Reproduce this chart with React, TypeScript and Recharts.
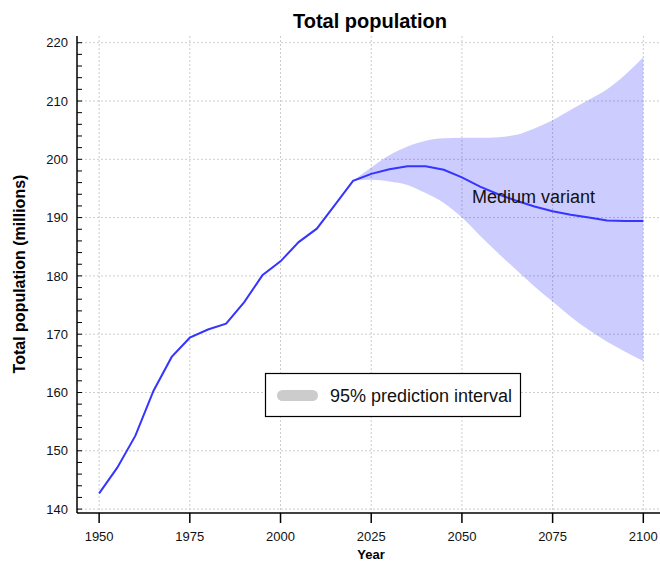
import React from "react";
import {
  Area,
  CartesianGrid,
  ComposedChart,
  Line,
  ReferenceDot,
  XAxis,
  YAxis,
} from "recharts";

const years = [
  1950, 1955, 1960, 1965, 1970, 1975, 1980, 1985, 1990, 1995, 2000, 2005, 2010,
  2015, 2020, 2025, 2030, 2035, 2040, 2045, 2050, 2055, 2060, 2065, 2070, 2075,
  2080, 2085, 2090, 2095, 2100,
];

// estimates (1950-2020) followed by the medium variant (2025-2100)
const population = [
  142.7, 147.1, 152.6, 160.3, 166.1, 169.4, 170.8, 171.8, 175.5, 180.1, 182.5,
  185.8, 188.1, 192.2, 196.3, 197.5, 198.3, 198.8, 198.8, 198.2, 196.9, 195.3,
  194.0, 192.9, 191.9, 191.1, 190.5, 190.0, 189.5, 189.4, 189.4,
];

// 95% prediction interval, from 2020 on
const bandYears = [
  2020, 2025, 2030, 2035, 2040, 2045, 2050, 2055, 2060, 2065, 2070, 2075, 2080,
  2085, 2090, 2095, 2100,
];
const lower95 = [
  196.3, 196.5, 196.2, 195.6, 194.2, 192.5, 190.0, 186.9, 183.9, 181.0, 178.2,
  175.6, 173.0, 170.7, 168.7, 167.0, 165.4,
];
const upper95 = [
  196.3, 198.6, 200.7, 202.2, 203.2, 203.6, 203.7, 203.7, 203.8, 204.2, 205.3,
  206.7, 208.5, 210.2, 212.0, 214.5, 217.5,
];

const xTicks = [1950, 1975, 2000, 2025, 2050, 2075, 2100];
const yMajorTicks = [140, 150, 160, 170, 180, 190, 200, 210, 220];
const yMinorTicks = Array.from({ length: 41 }, (_, i) => 140 + i * 2);

const data = years.map((year, i) => {
  const j = bandYears.indexOf(year);
  return {
    year,
    pop: population[i],
    band: j >= 0 ? [lower95[j], upper95[j]] : undefined,
  };
});

const FONT = "'Liberation Sans', Arial, Helvetica, sans-serif";
const X_DOMAIN: [number, number] = [1943.9, 2104.6];
const Y_DOMAIN: [number, number] = [139.33, 221.15];

export default function App() {
  return (
    <div style={{ position: "absolute", left: 0, top: 0, width: 660, height: 561, fontFamily: FONT }}>
      <ComposedChart
        width={660}
        height={561}
        data={data}
        margin={{ top: 36, right: 0, bottom: 0, left: 0 }}
      >
        <CartesianGrid
          stroke="#cdcdcd"
          strokeDasharray="2 2"
          horizontalValues={yMajorTicks}
          verticalValues={xTicks}
        />
        <XAxis
          dataKey="year"
          type="number"
          domain={X_DOMAIN}
          allowDataOverflow
          ticks={xTicks}
          height={48}
          tickSize={10}
          tickMargin={9}
          axisLine={{ stroke: "#000", strokeWidth: 1.5 }}
          tickLine={{ stroke: "#000", strokeWidth: 1.5 }}
          tick={{ fill: "#111", fontSize: 13, fontFamily: FONT }}
        />
        <XAxis
          xAxisId="top"
          orientation="top"
          type="number"
          domain={X_DOMAIN}
          allowDataOverflow
          height={0}
          tick={false}
          tickLine={false}
          axisLine={{ stroke: "#000", strokeWidth: 1.5 }}
        />
        <YAxis
          type="number"
          domain={Y_DOMAIN}
          allowDataOverflow
          ticks={yMinorTicks}
          interval={0}
          width={77}
          tickSize={-5}
          tickMargin={14}
          tickFormatter={(v: number) => (v % 10 === 0 ? String(v) : "")}
          axisLine={{ stroke: "#000", strokeWidth: 1.5 }}
          tickLine={{ stroke: "#000", strokeWidth: 1 }}
          tick={{ fill: "#111", fontSize: 13, fontFamily: FONT }}
        />
        <Area
          dataKey="band"
          type="monotone"
          stroke="none"
          fill="#0000ff"
          fillOpacity={0.2}
          isAnimationActive={false}
        />
        <Line
          dataKey="pop"
          type="linear"
          stroke="#3535ff"
          strokeWidth={2}
          dot={false}
          isAnimationActive={false}
        />
        <ReferenceDot
          x={2052.8}
          y={192.45}
          r={0}
          stroke="none"
          fill="none"
          label={(props: any) => (
            <text
              x={props.viewBox.x}
              y={props.viewBox.y}
              fontSize={18}
              fontFamily={FONT}
              fill="#111"
              textAnchor="start"
            >
              Medium variant
            </text>
          )}
        />
      </ComposedChart>
      <svg
        width={660}
        height={561}
        style={{ position: "absolute", left: 0, top: 0, pointerEvents: "none" }}
      >
        <text x={370} y={28} textAnchor="middle" fontSize={20} fontWeight="bold" fontFamily={FONT} fill="#000">
          Total population
        </text>
        <text
          x={25}
          y={274}
          transform="rotate(-90 25 274)"
          textAnchor="middle"
          fontSize={16}
          fontWeight="bold"
          fontFamily={FONT}
          fill="#000"
        >
          Total population (millions)
        </text>
        <text x={371} y={559} textAnchor="middle" fontSize={13} fontWeight="bold" fontFamily={FONT} fill="#000">
          Year
        </text>
        <rect x={265.5} y={373.5} width={255} height={43} fill="#fff" stroke="#000" strokeWidth={1.2} />
        <rect x={277} y={390} width={41} height={11} rx={5.5} fill="#cccccc" />
        <text x={330} y={402} fontSize={18} fontFamily={FONT} fill="#111">
          95% prediction interval
        </text>
      </svg>
    </div>
  );
}
